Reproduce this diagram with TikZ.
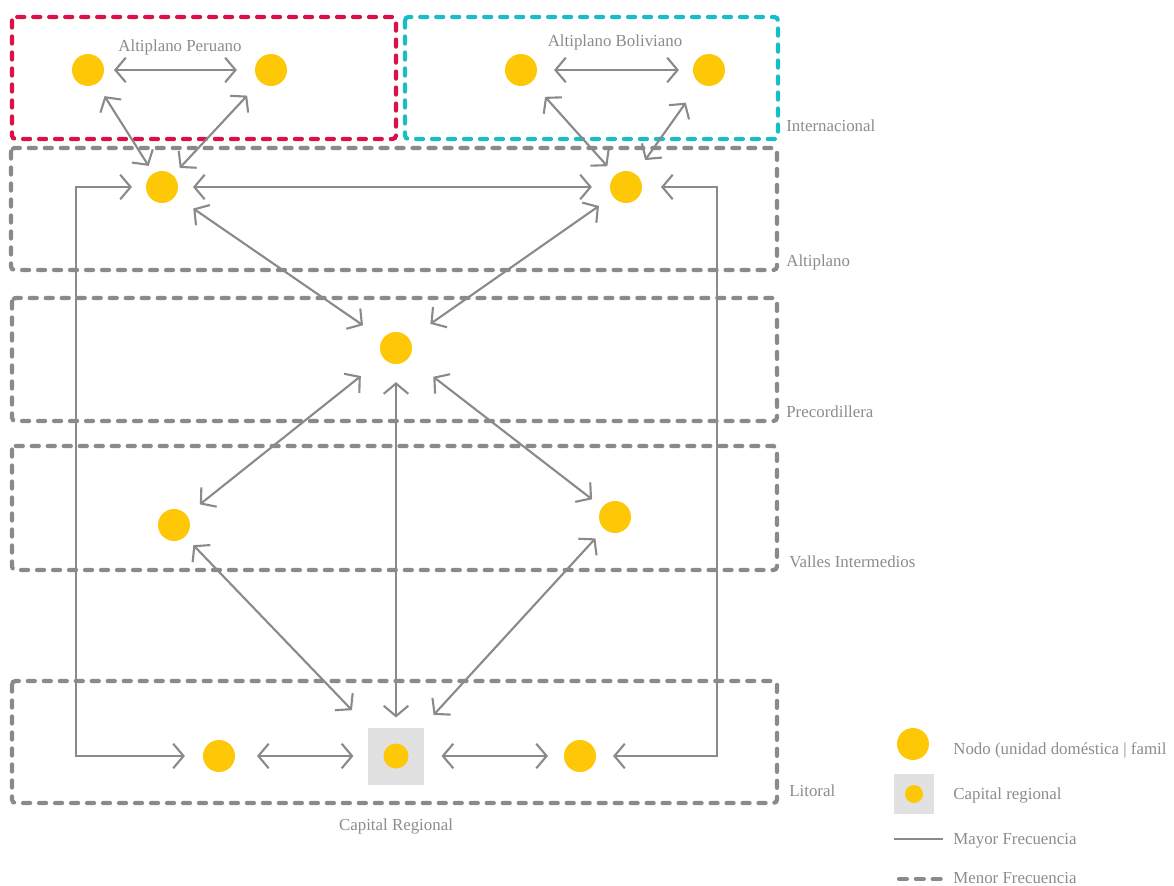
\documentclass[tikz,border=0pt]{standalone}
\usepackage{fontspec}
\setmainfont{Liberation Serif}
\usetikzlibrary{arrows.meta}
\definecolor{nodeyellow}{HTML}{FFC807}
\definecolor{linegray}{HTML}{8A8A8A}
\definecolor{textgray}{HTML}{8C8C8C}
\definecolor{perured}{HTML}{DC0F48}
\definecolor{bolcyan}{HTML}{17BEC8}
\definecolor{capgray}{HTML}{E1E1E1}
\tikzset{
  nodo/.style={circle,fill=nodeyellow,inner sep=0pt,outer sep=0pt,minimum size=0.64cm},
  nodito/.style={circle,fill=nodeyellow,inner sep=0pt,outer sep=0pt,minimum size=0.5cm},
  capital/.style={rectangle,fill=capgray,inner sep=0pt,outer sep=0pt,minimum width=1.14cm,minimum height=1.14cm},
  enlace/.style={draw=linegray,line width=1.2pt,
    {Straight Barb[length=5.9pt,width=14pt]}-{Straight Barb[length=5.9pt,width=14pt]}},
  zona/.style={draw=linegray,line width=2.4pt,dash pattern=on 4pt off 5.1pt,line cap=round,rounded corners=2pt},
  etiqueta/.style={text=textgray,font=\fontsize{9.6}{11}\selectfont,inner sep=0pt},
}
\begin{document}
\begin{tikzpicture}[x=0.02cm,y=-0.02cm]
\useasboundingbox (0,0) rectangle (1174,886);

\draw[zona,draw=perured] (12,17) rectangle (396,139);
\draw[zona,draw=bolcyan] (405,17) rectangle (778,139);
\draw[zona] (11,148) rectangle (777,270);
\draw[zona] (12,298) rectangle (777,421);
\draw[zona] (12,446) rectangle (777,570);
\draw[zona] (12,681) rectangle (777,803);

\node[etiqueta,anchor=base] at (180,51) {Altiplano Peruano};
\node[etiqueta,anchor=base] at (615,46) {Altiplano Boliviano};
\node[etiqueta,anchor=base west] at (786,131) {Internacional};
\node[etiqueta,anchor=base west] at (786,266) {Altiplano};
\node[etiqueta,anchor=base west] at (786,417) {Precordillera};
\node[etiqueta,anchor=base west] at (789,567) {Valles Intermedios};
\node[etiqueta,anchor=base west] at (789,796) {Litoral};
\node[etiqueta,anchor=base] at (396,830) {Capital Regional};

\node[nodo] (P1) at (88,70) {};
\node[nodo] (P2) at (271,70) {};
\node[nodo] (B1) at (521,70) {};
\node[nodo] (B2) at (709,70) {};
\node[nodo] (A1) at (162,187) {};
\node[nodo] (A2) at (626,187) {};
\node[nodo] (PC) at (396,348) {};
\node[nodo] (V1) at (174,525) {};
\node[nodo] (V2) at (615,517) {};
\node[capital] (C) at (396,756) {};
\node[nodito] (Cn) at (C) {};
\node[nodo] (L1) at (219,756) {};
\node[nodo] (L2) at (580,756) {};

\draw[enlace,shorten <=5.7pt,shorten >=10.3pt] (P1) -- (P2);
\draw[enlace,shorten <=9.7pt,shorten >=8pt] (B1) -- (B2);
\draw[enlace,shorten <=8.5pt,shorten >=5.1pt] (P1) -- (A1);
\draw[enlace,shorten <=10.8pt,shorten >=5.7pt] (P2) -- (A1);
\draw[enlace,shorten <=11.4pt,shorten >=6.8pt] (B1) -- (A2);
\draw[enlace,shorten <=13.7pt,shorten >=9.7pt] (B2) -- (A2);
\draw[enlace,shorten <=8.5pt,shorten >=10.3pt] (A1) -- (A2);
\draw[enlace,shorten <=12.5pt,shorten >=13.7pt] (A1) -- (PC);
\draw[enlace,shorten <=9.7pt,shorten >=14.8pt] (A2) -- (PC);
\draw[enlace,shorten <=16.5pt,shorten >=9.7pt] (PC) -- (V1);
\draw[enlace,shorten <=17.7pt,shorten >=7.4pt] (PC) -- (V2);
\draw[enlace,shorten <=10.3pt,shorten >=5.7pt] (PC) -- (C);
\draw[enlace,shorten <=6.8pt,shorten >=13.7pt] (V1) -- (C);
\draw[enlace,shorten <=7.4pt,shorten >=9.7pt] (V2) -- (C);
\draw[enlace,shorten <=12.5pt,shorten >=8pt] (L1) -- (C);
\draw[enlace,shorten <=9.7pt,shorten >=9.1pt] (C) -- (L2);

\coordinate (izq) at (76,756);
\coordinate (der) at (717,756);
\draw[enlace,shorten <=8pt,shorten >=10.3pt] (A1.west) -| (izq) -- (L1.west);
\draw[enlace,shorten <=10.8pt,shorten >=9.7pt] (A2.east) -| (der) -- (L2.east);

\node[nodo] (leyN) at (913,744) {};
\node[capital,minimum width=0.8cm,minimum height=0.8cm] (leyC) at (914,794) {};
\node[nodito,minimum size=0.36cm] (leyCn) at (leyC) {};
\coordinate (mayA) at (894,839);
\coordinate (mayB) at (943,839);
\coordinate (menA) at (899,879);
\coordinate (menB) at (941,879);
\draw[draw=linegray,line width=1.2pt] (mayA) -- (mayB);
\draw[zona,rounded corners=0pt,dash pattern=on 4.5pt off 5.1pt] (menA) -- (menB);

\node[etiqueta,anchor=base west] at (953,754) {Nodo (unidad doméstica | famil};
\node[etiqueta,anchor=base west] at (953,799) {Capital regional};
\node[etiqueta,anchor=base west] at (953,844) {Mayor Frecuencia};
\node[etiqueta,anchor=base west] at (953,883) {Menor Frecuencia};
\end{tikzpicture}
\end{document}
